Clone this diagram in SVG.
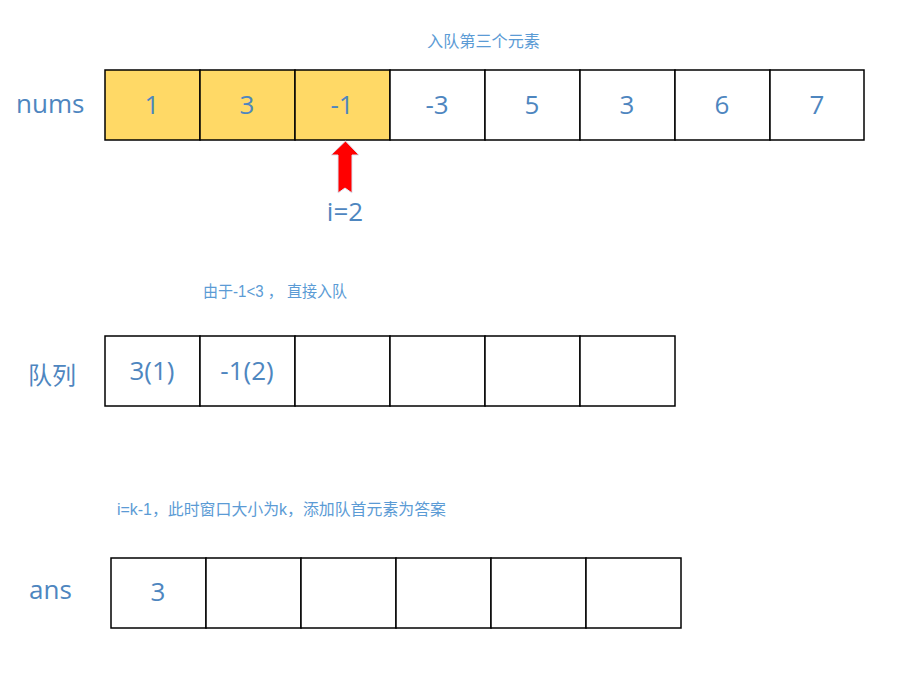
<svg xmlns="http://www.w3.org/2000/svg" width="914" height="676" viewBox="0 0 914 676">
<style>
.cell{fill:#ffffff;stroke:#000000;stroke-width:1.5}
.hl{fill:#FFD966}
.v{font-family:"Open Sans","Liberation Sans","Noto Sans CJK SC",sans-serif;font-size:26px;fill:#4E86BF;text-anchor:middle}
.lbl{font-family:"Open Sans","Noto Sans CJK SC",sans-serif;font-size:26px;fill:#4E86BF}
.cn{font-family:"Noto Sans CJK SC",sans-serif;font-size:24px;fill:#4E86BF}
.cap{font-family:"Liberation Sans","Noto Sans CJK SC",sans-serif;font-size:16px;fill:#5B9BD5}
</style>
<rect width="914" height="676" fill="#ffffff"/>
<g id="caption1"><text class="cap" x="427" y="47" textLength="113" lengthAdjust="spacingAndGlyphs">入队第三个元素</text></g>
<g id="nums-label"><text class="lbl" x="16" y="113">nums</text></g>
<g id="nums">
<rect class="cell hl" x="105" y="70" width="95" height="70"/>
<rect class="cell hl" x="200" y="70" width="95" height="70"/>
<rect class="cell hl" x="295" y="70" width="95" height="70"/>
<rect class="cell" x="390" y="70" width="95" height="70"/>
<rect class="cell" x="485" y="70" width="95" height="70"/>
<rect class="cell" x="580" y="70" width="95" height="70"/>
<rect class="cell" x="675" y="70" width="95" height="70"/>
<rect class="cell" x="770" y="70" width="94" height="70"/>
<text class="v" x="152" y="114">1</text>
<text class="v" x="247" y="114">3</text>
<text class="v" x="342" y="114">-1</text>
<text class="v" x="437" y="114">-3</text>
<text class="v" x="532" y="114">5</text>
<text class="v" x="627" y="114">3</text>
<text class="v" x="722" y="114">6</text>
<text class="v" x="817" y="114">7</text>
</g>
<g id="pointer">
<polygon points="345.5,141 359,155 352,155 352,193 345,188 338,193 338,155 331,155" fill="#FF0000" stroke="#DCE6F2" stroke-width="1"/>
<text class="v" x="345" y="221">i=2</text>
</g>
<g id="caption2"><text class="cap" x="203" y="297" textLength="144" lengthAdjust="spacingAndGlyphs">由于-1&lt;3 ， 直接入队</text></g>
<g id="queue-label"><text class="cn" x="28" y="384">队列</text></g>
<g id="queue">
<rect class="cell" x="105" y="336" width="95" height="70"/>
<rect class="cell" x="200" y="336" width="95" height="70"/>
<rect class="cell" x="295" y="336" width="95" height="70"/>
<rect class="cell" x="390" y="336" width="95" height="70"/>
<rect class="cell" x="485" y="336" width="95" height="70"/>
<rect class="cell" x="580" y="336" width="95" height="70"/>
<text class="v" x="152" y="380">3(1)</text>
<text class="v" x="247" y="380">-1(2)</text>
</g>
<g id="caption3"><text class="cap" x="117" y="515" textLength="329" lengthAdjust="spacingAndGlyphs">i=k-1，此时窗口大小为k，添加队首元素为答案</text></g>
<g id="ans-label"><text class="lbl" x="29" y="599">ans</text></g>
<g id="ans">
<rect class="cell" x="111" y="558" width="95" height="70"/>
<rect class="cell" x="206" y="558" width="95" height="70"/>
<rect class="cell" x="301" y="558" width="95" height="70"/>
<rect class="cell" x="396" y="558" width="95" height="70"/>
<rect class="cell" x="491" y="558" width="95" height="70"/>
<rect class="cell" x="586" y="558" width="95" height="70"/>
<text class="v" x="158" y="601">3</text>
</g>
<g id="connectors"></g>
</svg>
